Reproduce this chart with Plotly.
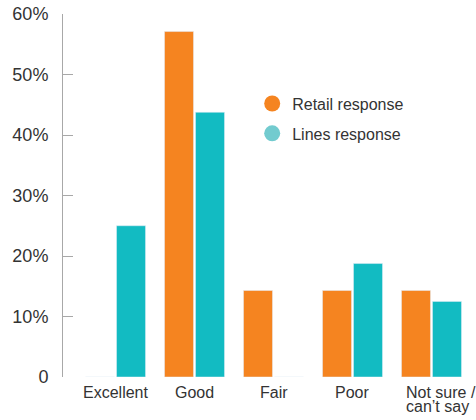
import plotly.graph_objects as go

categories = ["Excellent", "Good", "Fair", "Poor", "Not sure / can’t say"]
category_label_lines = [["Excellent"], ["Good"], ["Fair"], ["Poor"], ["Not sure /", "can’t say"]]
retail = [0, 57.1, 14.3, 14.3, 14.3]
lines = [25.0, 43.75, 0, 18.75, 12.5]
ytick_vals = [0, 10, 20, 30, 40, 50, 60]
ytick_text = ["0", "10%", "20%", "30%", "40%", "50%", "60%"]

ORANGE = "#F58420"
TEAL = "#12BBC2"
TEAL_LEG = "#72CBCF"
FONT = "Liberation Sans, Arial, sans-serif"
TXT = "#333333"

fig = go.Figure()
fig.add_trace(go.Bar(x=categories, y=retail, marker_color=ORANGE, showlegend=False, name="Retail response"))
fig.add_trace(go.Bar(x=categories, y=lines, marker_color=TEAL, showlegend=False, name="Lines response"))
fig.add_trace(go.Scatter(x=[None], y=[None], mode="markers", name="Retail response",
                         marker=dict(color=ORANGE, size=16), legendgroup="a"))
fig.add_trace(go.Scatter(x=[None], y=[None], mode="markers", name="Lines response",
                         marker=dict(color=TEAL_LEG, size=16), legendgroup="b"))

# category labels (tight line spacing like the reference)
for cat, label_lines in zip(categories, category_label_lines):
    multi = len(label_lines) > 1
    for i, txt in enumerate(label_lines):
        fig.add_annotation(x=cat, y=0, xref="x", yref="y", text=txt, showarrow=False,
                           xanchor="left" if multi else "center", yanchor="top",
                           yshift=-5 - 14 * i, xshift=-27 if multi else 0,
                           font=dict(family=FONT, size=16, color=TXT))

fig.update_layout(
    width=476, height=420,
    margin=dict(l=63, r=7, t=14, b=43, autoexpand=False),
    paper_bgcolor="white", plot_bgcolor="white",
    font=dict(family=FONT, size=16, color=TXT),
    barmode="group", bargap=0.215, bargroupgap=0.065,
    legend=dict(x=0.466, y=0.80, xanchor="left", yanchor="top",
                bgcolor="rgba(0,0,0,0)", font=dict(size=16, color=TXT),
                tracegroupgap=6, traceorder="grouped"),
)
fig.update_xaxes(range=[-0.665, 4.475], showline=False, showgrid=False, zeroline=False,
                 ticks="", showticklabels=False, automargin=False)
fig.update_yaxes(range=[0, 60], tickvals=ytick_vals, ticktext=ytick_text,
                 showline=True, linecolor="#A8A8A8", linewidth=1,
                 ticks="inside", ticklen=10, tickcolor="#A8A8A8", tickwidth=1,
                 showgrid=False, zeroline=False, automargin=False,
                 tickfont=dict(size=18, color=TXT), ticklabelstandoff=10)

fig.write_html("out.html", config={"displayModeBar": False},
               post_script="document.body.style.margin='0';document.body.style.overflow='hidden';")
